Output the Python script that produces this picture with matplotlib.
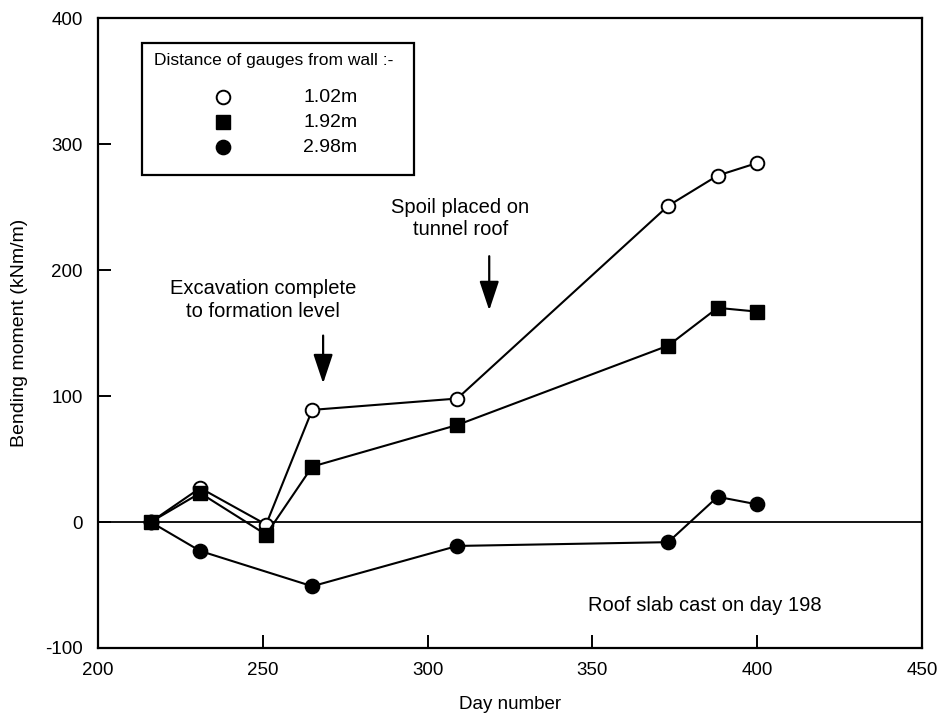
import matplotlib.pyplot as plt
from matplotlib.lines import Line2D
from matplotlib.patches import Rectangle

plt.rcParams['font.family'] = ['Liberation Sans', 'DejaVu Sans']
plt.rcParams['axes.unicode_minus'] = False

# gauge readings, bending moment (kNm/m) against day number
days = [216, 231, 251, 265, 309, 373, 388, 400]
gauge_102 = [0, 27, -2, 89, 98, 251, 275, 285]
gauge_192 = [0, 23, -10, 44, 77, 140, 170, 167]
gauge_298 = [0, -23, None, -51, -19, -16, 20, 14]
labels = ['1.02m', '1.92m', '2.98m']
legend_title = 'Distance of gauges from wall :-'

fig = plt.figure(figsize=(9.46, 7.24), dpi=100)
ax = fig.add_axes([0.1036, 0.105, 0.871, 0.870])

ax.axhline(0, color='black', lw=1.3, zorder=1)

d298 = [d for d, v in zip(days, gauge_298) if v is not None]
v298 = [v for v in gauge_298 if v is not None]

style_102 = dict(marker='o', color='black', mfc='white', mec='black', ms=9.8, mew=1.4)
style_192 = dict(marker='s', color='black', ms=10.5)
style_298 = dict(marker='o', color='black', ms=10.3)

ax.plot(days, gauge_102, lw=1.5, zorder=3, **style_102)
ax.plot(days, gauge_192, lw=1.5, zorder=4, **style_192)
ax.plot(d298, v298, lw=1.5, zorder=3, **style_298)

ax.set_xlim(200, 450)
ax.set_ylim(-100, 400)
ax.set_xticks([200, 250, 300, 350, 400, 450])
ax.set_yticks([-100, 0, 100, 200, 300, 400])
ax.tick_params(direction='in', length=9.5, width=1.4, labelsize=13.5)
ax.tick_params(axis='x', pad=10)
ax.tick_params(axis='y', pad=11)
for s in ax.spines.values():
    s.set_linewidth(1.6)

ax.set_xlabel('Day number', fontsize=13.5, labelpad=12)
ax.set_ylabel('Bending moment (kNm/m)', fontsize=14, labelpad=12)

# event annotations
arrow = dict(arrowstyle='-|>,head_length=0.9,head_width=0.3', color='black',
             lw=1.6, mutation_scale=20, shrinkA=0, shrinkB=0)
ax.annotate('', xy=(268.3, 110), xytext=(268.3, 148), arrowprops=arrow)
ax.text(250, 176, 'Excavation complete\nto formation level', ha='center',
        va='center', fontsize=14.5, linespacing=1.25)
ax.annotate('', xy=(318.7, 168), xytext=(318.7, 211), arrowprops=arrow)
ax.text(310, 241, 'Spoil placed on\ntunnel roof', ha='center',
        va='center', fontsize=14.5, linespacing=1.25)
ax.text(384, -66, 'Roof slab cast on day 198', ha='center', va='center',
        fontsize=14.5)

# key box
ax.add_patch(Rectangle((0.0534, 0.751), 0.330, 0.209, transform=ax.transAxes,
                       fill=True, facecolor='white', edgecolor='black',
                       lw=1.6, zorder=5))
ax.text(0.068, 0.933, legend_title, transform=ax.transAxes, fontsize=12.5,
        va='center', ha='left', zorder=6)
for y, st, lab in zip([0.8746, 0.8349, 0.7952], [style_102, style_192, style_298], labels):
    ax.add_line(Line2D([0.1517], [y], ls='none', transform=ax.transAxes,
                       zorder=6, **st))
    ax.text(0.2488, y, lab, transform=ax.transAxes, fontsize=14,
            va='center', ha='left', zorder=6)

fig.savefig('out.png', dpi=100)
